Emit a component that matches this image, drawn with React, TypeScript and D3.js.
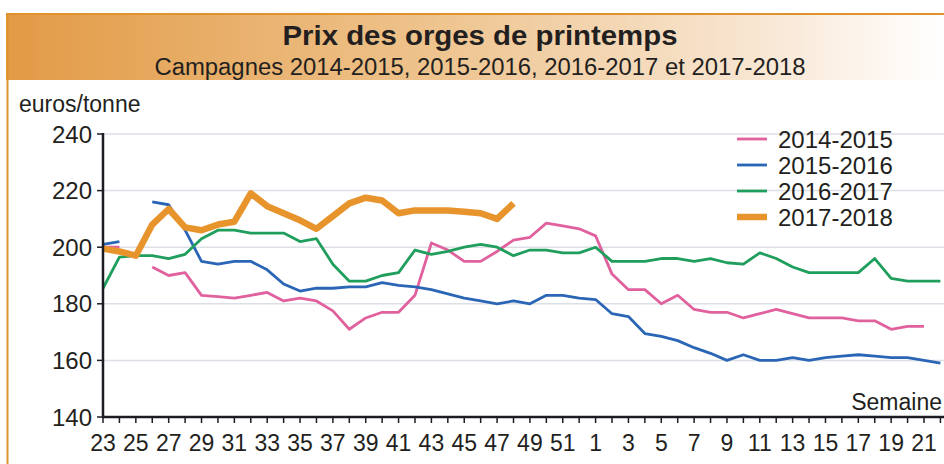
import React from "react";
import * as d3 from "d3";

const weeks: number[] = [
  23, 24, 25, 26, 27, 28, 29, 30, 31, 32, 33, 34, 35, 36, 37, 38, 39, 40, 41, 42,
  43, 44, 45, 46, 47, 48, 49, 50, 51, 52, 1, 2, 3, 4, 5, 6, 7, 8, 9, 10, 11, 12,
  13, 14, 15, 16, 17, 18, 19, 20, 21, 22,
];
const tickLabels: number[] = [
  23, 25, 27, 29, 31, 33, 35, 37, 39, 41, 43, 45, 47, 49, 51, 1, 3, 5, 7, 9, 11,
  13, 15, 17, 19, 21,
];
const yTicks: number[] = [140, 160, 180, 200, 220, 240];

const s2014: (number | null)[] = [
  200, 200, null, 193, 190, 191, 183, 182.5, 182, 183, 184, 181, 182, 181, 177.5,
  171, 175, 177, 177, 183, 201.5, 199, 195, 195, 198.5, 202.5, 203.5, 208.5,
  207.5, 206.5, 204, 190.5, 185, 185, 180, 183, 178, 177, 177, 175, 176.5, 178,
  176.5, 175, 175, 175, 174, 174, 171, 172, 172, null,
];
const s2015: (number | null)[] = [
  201, 202, null, 216, 215, 206, 195, 194, 195, 195, 192, 187, 184.5, 185.5,
  185.5, 186, 186, 187.5, 186.5, 186, 185, 183.5, 182, 181, 180, 181, 180, 183,
  183, 182, 181.5, 176.5, 175.5, 169.5, 168.5, 167, 164.5, 162.5, 160, 162, 160,
  160, 161, 160, 161, 161.5, 162, 161.5, 161, 161, 160, 159,
];
const s2016: (number | null)[] = [
  185.5, 196.5, 197, 197, 196, 197.5, 203, 206, 206, 205, 205, 205, 202, 203,
  194, 188, 188, 190, 191, 199, 197.5, 198.5, 200, 201, 200, 197, 199, 199, 198,
  198, 200, 195, 195, 195, 196, 196, 195, 196, 194.5, 194, 198, 196, 193, 191,
  191, 191, 191, 196, 189, 188, 188, 188,
];
const s2017: (number | null)[] = [
  199.5, 198.5, 197, 208, 213.5, 207, 206, 208, 209, 219, 214.5, 212, 209.5,
  206.5, 211, 215.5, 217.5, 216.5, 212, 213, 213, 213, 212.5, 212, 210, 215.5,
];

const seriesNames: string[] = ["2014-2015", "2015-2016", "2016-2017", "2017-2018"];
const seriesData = [s2014, s2015, s2016, s2017];
const seriesColors: string[] = ["#e0619d", "#2a66b5", "#1f9e5c", "#e8942c"];
const seriesWidths: number[] = [2.8, 2.8, 2.8, 6.5];

const FONT = "'Liberation Sans', Arial, Helvetica, sans-serif";

export default function App() {
  const W = 944;
  const H = 464;
  const x0 = 103;
  const step = 16.42;
  const x = d3
    .scaleLinear()
    .domain([0, weeks.length - 1])
    .range([x0, x0 + step * (weeks.length - 1)]);
  const y = d3.scaleLinear().domain([140, 240]).range([417, 134]);

  const line = d3
    .line<number | null>()
    .defined((d) => d !== null)
    .x((_, i) => x(i))
    .y((d) => y(d as number));

  const idxOf = (w: number) => weeks.indexOf(w);

  return (
    <svg
      width={W}
      height={H}
      style={{ position: "absolute", left: 0, top: 0, background: "#fff" }}
    >
      <defs>
        <linearGradient id="bannerGrad" x1="0" x2="1" y1="0" y2="0">
          <stop offset="0" stopColor="#e29a45" />
          <stop offset="0.45" stopColor="#eec38d" />
          <stop offset="0.8" stopColor="#f8e6d2" />
          <stop offset="1" stopColor="#ffffff" />
        </linearGradient>
      </defs>
      <rect x={0} y={0} width={W} height={H} fill="#fff" />
      {/* banner */}
      <rect x={6} y={13} width={W - 6} height={67} fill="url(#bannerGrad)" />
      <line x1={6} x2={W} y1={14} y2={14} stroke="#e0922e" strokeWidth={2} />
      <line x1={7.5} x2={7.5} y1={13} y2={H} stroke="#e0922e" strokeWidth={2} />
      <text
        x={480}
        y={45}
        textAnchor="middle"
        fontFamily={FONT}
        fontWeight="bold"
        fontSize={28}
        fill="#231f20"
        textLength={395}
        lengthAdjust="spacingAndGlyphs"
      >
        Prix des orges de printemps
      </text>
      <text
        x={480}
        y={75}
        textAnchor="middle"
        fontFamily={FONT}
        fontSize={23}
        fill="#231f20"
        textLength={651}
        lengthAdjust="spacingAndGlyphs"
      >
        Campagnes 2014-2015, 2015-2016, 2016-2017 et 2017-2018
      </text>

      <text x={19} y={112} fontFamily={FONT} fontSize={23} fill="#231f20">
        euros/tonne
      </text>

      {/* grid */}
      {yTicks
        .filter((t) => t > 140)
        .map((t) => (
          <line
            key={"g" + t}
            x1={x0}
            x2={W}
            y1={y(t)}
            y2={y(t)}
            stroke="#dcdfe6"
            strokeWidth={1.5}
          />
        ))}

      {/* legend */}
      {seriesNames.map((n, i) => (
        <g key={n}>
          <line
            x1={737}
            x2={767}
            y1={139 + i * 26}
            y2={139 + i * 26}
            stroke={seriesColors[i]}
            strokeWidth={seriesWidths[i]}
          />
          <text
            x={778}
            y={139 + i * 26 + 8.5}
            fontFamily={FONT}
            fontSize={24}
            fill="#231f20"
          >
            {n}
          </text>
        </g>
      ))}

      {/* series */}
      {seriesData.map((d, i) => (
        <path
          key={seriesNames[i]}
          d={line(d) || ""}
          fill="none"
          stroke={seriesColors[i]}
          strokeWidth={seriesWidths[i]}
          strokeLinejoin="round"
          strokeLinecap="butt"
        />
      ))}

      {/* axes */}
      <line x1={x0} x2={x0} y1={133} y2={418} stroke="#1c1c24" strokeWidth={2.5} />
      <line x1={x0 - 1} x2={W} y1={417} y2={417} stroke="#1c1c24" strokeWidth={2.5} />
      {yTicks.map((t) => (
        <g key={"y" + t}>
          <line x1={x0 - 6} x2={x0} y1={y(t)} y2={y(t)} stroke="#1c1c24" strokeWidth={1.5} />
          <text
            x={92}
            y={y(t) + 8.5}
            textAnchor="end"
            fontFamily={FONT}
            fontSize={24}
            fill="#231f20"
          >
            {t}
          </text>
        </g>
      ))}
      {weeks.map((w, i) => (
        <line
          key={"xt" + i}
          x1={x(i)}
          x2={x(i)}
          y1={417}
          y2={423}
          stroke="#1c1c24"
          strokeWidth={1.5}
        />
      ))}
      {tickLabels.map((w) => (
        <text
          key={"xl" + w}
          x={x(idxOf(w))}
          y={451}
          textAnchor="middle"
          fontFamily={FONT}
          fontSize={23}
          fill="#231f20"
        >
          {w}
        </text>
      ))}
      <text
        x={942}
        y={410}
        textAnchor="end"
        fontFamily={FONT}
        fontSize={23}
        fill="#231f20"
      >
        Semaine
      </text>
    </svg>
  );
}
